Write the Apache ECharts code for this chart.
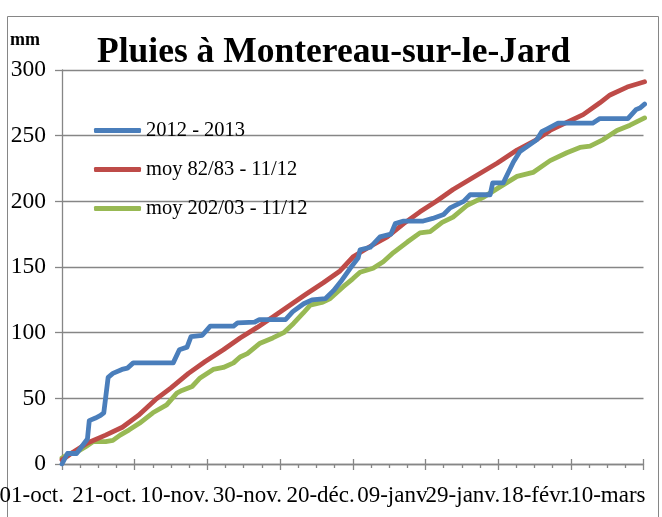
<!DOCTYPE html>
<html><head><meta charset="utf-8">
<script src="https://cdn.jsdelivr.net/npm/echarts@6/dist/echarts.min.js"></script>
<style>html,body{margin:0;padding:0;background:#fff}#c{width:660px;height:517px}</style>
</head><body><div id="c"></div><script>
// x = days since 01-oct.
const tickLabels = ['01-oct.','21-oct.','10-nov.','30-nov.','20-déc.','09-janv','29-janv.','18-févr.','10-mars'];
const seriesNames = ['2012 - 2013','moy 82/83 - 11/12','moy 202/03 - 11/12'];
const s2012 = [[0,0],[1.5,8],[4,8],[7,19],[7.5,33],[9.2,35],[10.6,37],[11.5,39],[12.7,66],[14,69],[16.5,72],[18,73],[19.6,77],[30.6,77],[32.3,87],[34.4,89],[35.5,97],[38.6,98],[40.8,105],[47.2,105],[48.3,107.5],[53,108],[54.3,110],[61.5,110],[63.5,116],[66.5,122],[68.8,125],[72.5,126],[74.7,132],[77,140],[79.3,149],[81.5,157],[82,163],[84.8,165],[87.5,173],[90.5,175],[91.7,183],[94,185],[99.4,185],[102,187],[105,190],[106.8,195],[110.5,200],[112.3,205],[117.8,205],[118.5,214],[121.4,214],[124.2,230],[126,238],[130.7,247],[132,253],[133.4,255],[136.5,259.5],[146,259.5],[148,263],[155.7,263],[158,270],[159,271],[160.3,274]];
const sMoy82 = [[0,3],[3,9],[7,16],[12,22],[16.6,28],[21,37],[25.7,49],[30,58],[34.8,69],[39.4,78],[44.4,87],[49,96],[53.7,104],[58,112],[62.8,121],[67,129],[71.9,138],[76.5,147],[80.2,158],[85,166],[89.5,173],[94,183],[98.5,192],[103,200],[107.6,209],[113,218],[119.7,229],[125.2,239],[130,246],[134.3,254],[138,259],[143.4,266],[148,275],[150.8,281],[155.5,287],[160.3,291]];
const sMoy02 = [[0,4.5],[2,8],[4,9],[6.4,13],[8.5,17],[12,17],[14,18],[16,22],[18.5,26],[21.3,31],[25,39],[28.8,45],[31.6,54],[33,56],[35.8,59],[38,65.5],[41.6,72],[44.4,73.5],[47.2,77],[49,81.5],[51,84],[54.5,92],[58,96],[61,100],[63.7,107],[66.4,115],[68.3,121],[71.5,123],[73.8,126],[77.4,135],[80,141],[82,146],[85.6,149],[88.4,154],[91.2,161],[95,169],[98.5,176],[101.3,177],[104.6,184],[107.6,188],[111.5,197],[115.9,203],[120.5,211],[125.2,219],[129.6,222],[134.3,231],[138.9,237],[142.5,241],[145.3,242],[148.9,247],[152.7,254],[156.3,258],[160.3,263.5]];
const colors = ['#4A7EBB','#BE4B48','#98B954'];
const F = 'Liberation Serif';
const XMAX = 160;
const chart = echarts.init(document.getElementById('c'));
const mk = (name, data, i) => ({name, type:'line', data, showSymbol:false, symbol:'none', xAxisIndex:0,
  lineStyle:{width:4.8, color:colors[i], cap:'round', join:'round'}, itemStyle:{color:colors[i]}, z: 3 - i});
const lbl = {fontFamily:F, fontSize:23, color:'#000', margin:20, align:'right', padding:[0,-2,0,0], hideOverlap:false};
chart.setOption({
  animation:false,
  backgroundColor:'#fff',
  title:[
    {text:'Pluies à Montereau-sur-le-Jard', left:97, top:35, padding:0, textStyle:{fontFamily:F, fontSize:35.5, fontWeight:'bold', color:'#000'}},
    {text:'mm', left:10, top:31, padding:0, textStyle:{fontFamily:F, fontSize:18, fontWeight:'bold', color:'#000'}}
  ],
  graphic:[{type:'rect', shape:{x:7.5, y:16.5, width:651, height:540}, style:{fill:'none', stroke:'#868686', lineWidth:1}, silent:true}],
  legend:{orient:'vertical', left:94, top:120, padding:0, itemGap:18, itemWidth:47, itemHeight:5, icon:'roundRect',
    textStyle:{fontFamily:F, fontSize:20.5, color:'#000'}, data:seriesNames},
  grid:{left:62, right:16.5, top:70, bottom:53, outerBoundsMode:'none', containLabel:false},
  xAxis:[{type:'value', min:0, max:XMAX, interval:20,
    axisLine:{lineStyle:{color:'#868686', width:1.3}},
    axisTick:{length:6, lineStyle:{color:'#868686', width:1.3}},
    minorTick:{show:true, splitNumber:4, length:4, lineStyle:{color:'#868686', width:1.3}},
    splitLine:{show:false},
    axisLabel:Object.assign({formatter:v => v === XMAX ? '' : tickLabels[Math.round(v/20)], showMinLabel:true, showMaxLabel:false}, lbl)},
   {type:'value', min:0, max:XMAX, interval:20, position:'bottom',
    axisLine:{show:false},
    axisTick:{inside:true, length:5, lineStyle:{color:'#868686', width:1.3}},
    minorTick:{show:false},
    splitLine:{show:false},
    axisLabel:Object.assign({formatter:v => v === XMAX ? tickLabels[Math.round(v/20)] : '', showMinLabel:false, showMaxLabel:true}, lbl)}],
  yAxis:{type:'value', min:0, max:300, interval:50,
    axisLine:{show:true, lineStyle:{color:'#868686', width:1.3}},
    axisTick:{show:true, length:7, lineStyle:{color:'#868686', width:1.3}},
    splitLine:{lineStyle:{color:'#868686', width:1.3}},
    axisLabel:{fontFamily:F, fontSize:23.5, color:'#000', margin:16}},
  series:[mk(seriesNames[0], s2012, 0), mk(seriesNames[1], sMoy82, 1), mk(seriesNames[2], sMoy02, 2)]
});
</script></body></html>
